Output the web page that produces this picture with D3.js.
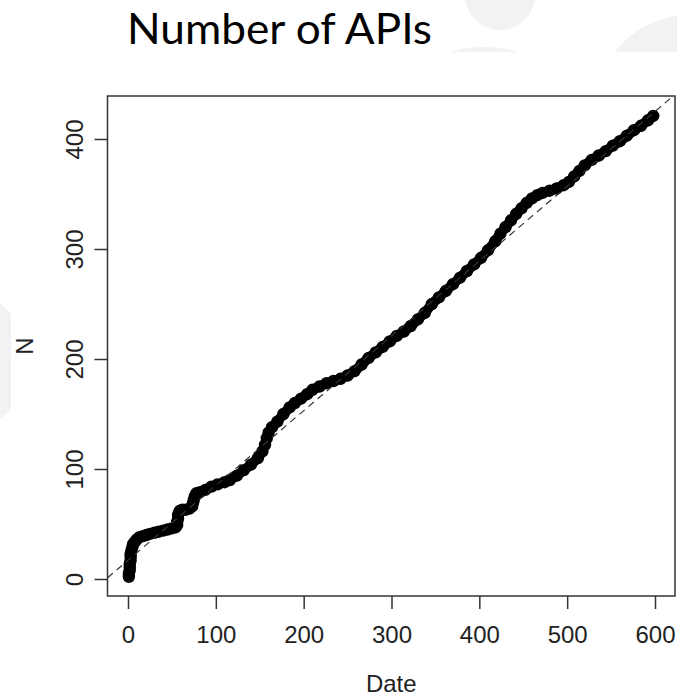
<!DOCTYPE html>
<html>
<head>
<meta charset="utf-8">
<script src="https://cdn.jsdelivr.net/npm/d3@7/dist/d3.min.js"></script>
<style>
  html, body { margin: 0; padding: 0; background: #fff; }
  svg { display: block; }
</style>
</head>
<body>
<svg id="chart" width="677" height="696"></svg>
<script>
// ---- data ----
const title = "Number of APIs";
const xLabel = "Date";
const yLabel = "N";
const xTicks = [0, 100, 200, 300, 400, 500, 600];
const yTicks = [0, 100, 200, 300, 400];
// observed points: [Date, N]
const dates = [1,1,2,2,2,3,3,3,4,5,6,8,10,13,17,21,25,30,35,40,45,50,54,56,56,57,57,58,59,62,66,70,73,74,75,76,78,82,88,95,102,110,116,124,132,140,148,153,156,158,160,164,170,177,184,190,197,204,210,218,226,234,242,250,258,266,274,282,290,298,306,314,322,330,338,346,354,362,370,378,386,394,402,410,418,424,430,436,442,448,454,460,466,472,480,488,496,502,508,514,520,528,536,544,552,560,568,576,584,592,598];
const counts = [2,5,8,11,14,17,20,23,26,29,32,34,36,38,39,40,41,42,43,44,45,46,47,49,52,55,58,60,62,63,63,64,66,69,72,75,78,79,81,84,86,88,90,94,99,104,110,116,122,128,133,138,143,150,156,160,164,168,172,175,178,180,182,185,189,195,201,206,211,216,221,225,230,236,242,250,256,262,268,274,280,286,292,299,307,314,320,326,332,337,342,346,349,351,353,355,358,361,366,371,376,381,385,389,394,398,403,408,412,417,421];
// fitted trend line N = a + b*Date
const fitIntercept = 17;
const fitSlope = 0.68;

// ---- layout ----
const box = { left: 107.5, right: 675, top: 96, bottom: 596 };
const svg = d3.select("#chart");

// slide background decorations
const deco = svg.append("g").attr("fill", "#f2f2f2");
deco.append("circle").attr("cx", 500).attr("cy", -5).attr("r", 35);
deco.append("circle").attr("cx", 484).attr("cy", 172).attr("r", 125);
deco.append("circle").attr("cx", 690).attr("cy", 110).attr("r", 95);
deco.append("circle").attr("cx", -40).attr("cy", 361).attr("r", 70);
// pasted chart image (white)
svg.append("rect").attr("x", 11).attr("y", 52).attr("width", 677 - 11).attr("height", 696 - 52).attr("fill", "#fff");

// title
svg.append("text")
  .attr("x", 127).attr("y", 43.5)
  .attr("font-family", "Lato, 'Open Sans', sans-serif")
  .attr("font-size", 43)
  .attr("fill", "#000")
  .attr("textLength", 305)
  .attr("lengthAdjust", "spacingAndGlyphs")
  .text(title);

const x = d3.scaleLinear().domain([0, 600]).range([128, 655]);
const y = d3.scaleLinear().domain([0, 400]).range([579, 139]);

const font = "'Liberation Sans', Arial, Helvetica, sans-serif";

// clip
svg.append("clipPath").attr("id", "plotclip")
  .append("rect")
  .attr("x", box.left).attr("y", box.top)
  .attr("width", box.right - box.left).attr("height", box.bottom - box.top);

const plot = svg.append("g").attr("clip-path", "url(#plotclip)");

const pts = dates.map((d, i) => [d, counts[i]]);

// dense band of points
plot.append("path")
  .datum(pts)
  .attr("d", d3.line().x(d => x(d[0])).y(d => y(d[1])))
  .attr("fill", "none")
  .attr("stroke", "#000")
  .attr("stroke-width", 10)
  .attr("stroke-linejoin", "round")
  .attr("stroke-linecap", "round");

plot.selectAll("circle.pt")
  .data(pts)
  .join("circle")
  .attr("class", "pt")
  .attr("cx", d => x(d[0]))
  .attr("cy", d => y(d[1]))
  .attr("r", 5.4)
  .attr("fill", "none")
  .attr("stroke", "#000")
  .attr("stroke-width", 1.6);

// dashed trend line
const xd0 = x.invert(box.left), xd1 = x.invert(box.right);
plot.append("line")
  .attr("x1", x(xd0)).attr("y1", y(fitIntercept + fitSlope * xd0))
  .attr("x2", x(xd1)).attr("y2", y(fitIntercept + fitSlope * xd1))
  .attr("stroke", "#333")
  .attr("stroke-width", 1.2)
  .attr("stroke-dasharray", "7,5");

// box
svg.append("rect")
  .attr("x", box.left).attr("y", box.top)
  .attr("width", box.right - box.left).attr("height", box.bottom - box.top)
  .attr("fill", "none").attr("stroke", "#333").attr("stroke-width", 1.5);

// x axis
const gx = svg.append("g")
  .attr("transform", `translate(0,${box.bottom})`)
  .call(d3.axisBottom(x).tickValues(xTicks).tickSize(13).tickFormat(d3.format("d")));
gx.select(".domain").remove();
gx.selectAll(".tick line").attr("stroke", "#333").attr("stroke-width", 1.5);
gx.selectAll(".tick text")
  .attr("y", 47).attr("dy", null)
  .attr("font-family", font).attr("font-size", 24).attr("fill", "#222");

// y axis
const gy = svg.append("g")
  .attr("transform", `translate(${box.left},0)`)
  .call(d3.axisLeft(y).tickValues(yTicks).tickSize(13).tickFormat(d3.format("d")));
gy.select(".domain").remove();
gy.selectAll(".tick line").attr("stroke", "#333").attr("stroke-width", 1.5);
gy.selectAll(".tick text")
  .attr("x", null).attr("dy", null)
  .attr("transform", "translate(-25,0) rotate(-90)")
  .attr("text-anchor", "middle")
  .attr("font-family", font).attr("font-size", 24).attr("fill", "#222");

// axis titles
svg.append("text")
  .attr("x", (box.left + box.right) / 2).attr("y", 692)
  .attr("text-anchor", "middle")
  .attr("font-family", font).attr("font-size", 24).attr("fill", "#222")
  .text(xLabel);
svg.append("text")
  .attr("transform", `translate(33,${(box.top + box.bottom) / 2}) rotate(-90)`)
  .attr("text-anchor", "middle")
  .attr("font-family", font).attr("font-size", 24).attr("fill", "#222")
  .text(yLabel);
</script>
</body>
</html>
